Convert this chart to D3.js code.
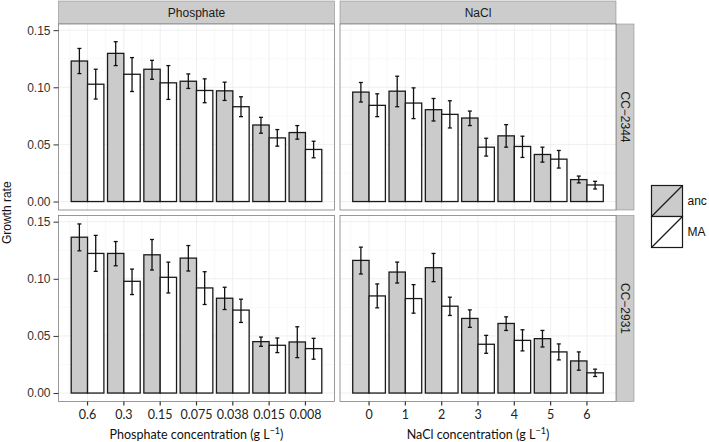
<!DOCTYPE html>
<html><head><meta charset="utf-8">
<script src="https://cdn.jsdelivr.net/npm/d3@7"></script>
<style>body{margin:0;background:#fff}</style>
</head><body>
<svg id="chart" width="709" height="442"></svg>
<script>
// ---- data ----
const phosCats = ["0.6","0.3","0.15","0.075","0.038","0.015","0.008"];
const naclCats = ["0","1","2","3","4","5","6"];
const groups = ["anc","MA"];
const strains = ["CC\u22122344","CC\u22122931"];
const facets = ["Phosphate","NaCl"];
const yTicks = [0,0.05,0.10,0.15];

// CC-2344, Phosphate
const p2344_anc = [0.123,0.1297,0.1158,0.1053,0.0969,0.067,0.0604];
const p2344_anc_lo = [0.112,0.119,0.107,0.099,0.0885,0.0598,0.0546];
const p2344_anc_hi = [0.134,0.1399,0.1236,0.1117,0.1045,0.0737,0.0665];
const p2344_ma = [0.1027,0.1114,0.1039,0.0972,0.083,0.0557,0.0456];
const p2344_ma_lo = [0.0897,0.0963,0.0894,0.0865,0.0743,0.0485,0.0383];
const p2344_ma_hi = [0.1158,0.126,0.119,0.1074,0.0917,0.063,0.0528];
// CC-2344, NaCl
const n2344_anc = [0.0958,0.0966,0.0804,0.0731,0.0575,0.0412,0.0192];
const n2344_anc_lo = [0.0871,0.083,0.0705,0.0665,0.0476,0.0345,0.0163];
const n2344_anc_hi = [0.1042,0.1097,0.0902,0.0792,0.0673,0.0476,0.0223];
const n2344_ma = [0.0842,0.0862,0.0763,0.0476,0.0482,0.0371,0.0145];
const n2344_ma_lo = [0.0743,0.0726,0.0644,0.0398,0.0386,0.0293,0.011];
const n2344_ma_hi = [0.0943,0.0995,0.0882,0.0554,0.0572,0.0447,0.0177];
// CC-2931, Phosphate
const p2931_anc = [0.1364,0.1222,0.121,0.1181,0.083,0.045,0.0447];
const p2931_anc_lo = [0.1245,0.1114,0.1077,0.1068,0.0731,0.0409,0.031];
const p2931_anc_hi = [0.148,0.1326,0.1344,0.1291,0.0926,0.049,0.058];
const p2931_ma = [0.1222,0.0978,0.1013,0.092,0.0726,0.0418,0.0389];
const p2931_ma_lo = [0.1065,0.0862,0.0876,0.0775,0.0618,0.0354,0.0296];
const p2931_ma_hi = [0.138,0.1085,0.1146,0.1062,0.0821,0.0482,0.0479];
// CC-2931, NaCl
const n2931_anc = [0.1161,0.1059,0.1097,0.0653,0.0609,0.0476,0.0281];
const n2931_anc_lo = [0.1042,0.0963,0.0975,0.0575,0.0548,0.0403,0.02];
const n2931_anc_hi = [0.1277,0.1146,0.1222,0.0728,0.0667,0.0548,0.036];
const n2931_ma = [0.085,0.0827,0.076,0.0427,0.0461,0.036,0.0177];
const n2931_ma_lo = [0.0746,0.0699,0.0679,0.0348,0.0369,0.029,0.0145];
const n2931_ma_hi = [0.0955,0.0949,0.0839,0.0505,0.0554,0.043,0.0209];

function rows(cats, anc, ancLo, ancHi, ma, maLo, maHi){
  const out=[];
  cats.forEach((c,i)=>{
    out.push({cat:c,g:"anc",v:anc[i],lo:ancLo[i],hi:ancHi[i]});
    out.push({cat:c,g:"MA",v:ma[i],lo:maLo[i],hi:maHi[i]});
  });
  return out;
}
const panels = [
  {row:0,col:0,cats:phosCats,data:rows(phosCats,p2344_anc,p2344_anc_lo,p2344_anc_hi,p2344_ma,p2344_ma_lo,p2344_ma_hi)},
  {row:0,col:1,cats:naclCats,data:rows(naclCats,n2344_anc,n2344_anc_lo,n2344_anc_hi,n2344_ma,n2344_ma_lo,n2344_ma_hi)},
  {row:1,col:0,cats:phosCats,data:rows(phosCats,p2931_anc,p2931_anc_lo,p2931_anc_hi,p2931_ma,p2931_ma_lo,p2931_ma_hi)},
  {row:1,col:1,cats:naclCats,data:rows(naclCats,n2931_anc,n2931_anc_lo,n2931_anc_hi,n2931_ma,n2931_ma_lo,n2931_ma_hi)}
];

// ---- layout ----
const svg = d3.select("#chart");
const colX = [58.5, 340];
const pw = 276;
const rowY = [24, 215.5];
const ph = 186;
const fillCol = {anc:"#cbcbcb", MA:"#ffffff"};
const sans = "'Liberation Sans', Arial, sans-serif";
const xfont = "Lato, 'Open Sans', sans-serif";

const y = d3.scaleLinear().domain([-0.0074,0.1554]).range([ph,0]);

// strips top
facets.forEach((f,c)=>{
  svg.append("rect").attr("x",colX[c]).attr("y",1).attr("width",pw).attr("height",23)
    .attr("fill","#cccccc").attr("stroke","#7f7f7f").attr("stroke-width",0.5);
  svg.append("text").attr("x",colX[c]+pw/2).attr("y",16.5).attr("text-anchor","middle")
    .attr("font-family",sans).attr("font-size",12).attr("fill","#1a1a1a").text(f);
});
// strips right
strains.forEach((s,r)=>{
  svg.append("rect").attr("x",colX[1]+pw).attr("y",rowY[r]).attr("width",18).attr("height",ph)
    .attr("fill","#cccccc").attr("stroke","#7f7f7f").attr("stroke-width",0.5);
  const cx = colX[1]+pw+9, cy = rowY[r]+ph/2;
  svg.append("text").attr("transform",`translate(${cx},${cy}) rotate(90)`)
    .attr("text-anchor","middle").attr("dy","0.35em")
    .attr("font-family",sans).attr("font-size",12).attr("fill","#1a1a1a").text(s);
});

panels.forEach(p=>{
  const g = svg.append("g").attr("transform",`translate(${colX[p.col]},${rowY[p.row]})`);
  const x = d3.scaleBand().domain(p.cats).range([0,pw]).paddingInner(0).paddingOuter(0.3);
  const step = x.step();
  const xs = d3.scaleBand().domain(groups).range([0.05*step,0.95*step]).padding(0);
  g.append("rect").attr("width",pw).attr("height",ph).attr("fill","#fff");
  // minor grid
  const minorY = [0.025,0.075,0.125];
  g.selectAll(".my").data(minorY).join("line").attr("x1",0).attr("x2",pw)
    .attr("y1",d=>y(d)).attr("y2",d=>y(d)).attr("stroke","#f4f4f4").attr("stroke-width",0.6);
  const minorX = p.cats.slice(0,-1).map(c=>x(c)+step);
  minorX.push(x(p.cats[0])); minorX.push(x(p.cats[p.cats.length-1])+step);
  g.selectAll(".mx").data(minorX).join("line").attr("y1",0).attr("y2",ph)
    .attr("x1",d=>d).attr("x2",d=>d).attr("stroke","#f4f4f4").attr("stroke-width",0.6);
  // major grid
  g.selectAll(".gy").data(yTicks).join("line").attr("x1",0).attr("x2",pw)
    .attr("y1",d=>y(d)).attr("y2",d=>y(d)).attr("stroke","#ebebeb").attr("stroke-width",0.8);
  g.selectAll(".gx").data(p.cats).join("line").attr("y1",0).attr("y2",ph)
    .attr("x1",d=>x(d)+step/2).attr("x2",d=>x(d)+step/2).attr("stroke","#ebebeb").attr("stroke-width",0.8);
  // bars
  g.selectAll(".bar").data(p.data).join("rect")
    .attr("x",d=>x(d.cat)+xs(d.g)).attr("width",xs.bandwidth())
    .attr("y",d=>y(d.v)).attr("height",d=>y(0)-y(d.v))
    .attr("fill",d=>fillCol[d.g]).attr("stroke","#1a1a1a").attr("stroke-width",1.3);
  // error bars
  const eb = g.selectAll(".eb").data(p.data).join("g")
    .attr("transform",d=>`translate(${x(d.cat)+xs(d.g)+xs.bandwidth()/2},0)`);
  eb.append("line").attr("x1",0).attr("x2",0).attr("y1",d=>y(d.lo)).attr("y2",d=>y(d.hi))
    .attr("stroke","#111").attr("stroke-width",1.3);
  eb.append("line").attr("x1",-2).attr("x2",2).attr("y1",d=>y(d.lo)).attr("y2",d=>y(d.lo))
    .attr("stroke","#111").attr("stroke-width",1.3);
  eb.append("line").attr("x1",-2).attr("x2",2).attr("y1",d=>y(d.hi)).attr("y2",d=>y(d.hi))
    .attr("stroke","#111").attr("stroke-width",1.3);
  // border
  g.append("rect").attr("width",pw).attr("height",ph).attr("fill","none")
    .attr("stroke","#7f7f7f").attr("stroke-width",0.8);
  // y axis on left column
  if(p.col===0){
    const ya = g.append("g").call(d3.axisLeft(y).tickValues(yTicks).tickFormat(d3.format(".2f")).tickSize(5).tickPadding(3));
    ya.select(".domain").remove();
    ya.selectAll("line").attr("stroke","#333");
    ya.selectAll("text").attr("font-family",sans).attr("font-size",12).attr("fill","#333");
  }
  if(p.row===1){
    const xa = g.append("g").attr("transform",`translate(0,${ph})`)
      .call(d3.axisBottom(x).tickSize(4).tickPadding(5));
    xa.select(".domain").remove();
    xa.selectAll("line").attr("stroke","#333").attr("stroke-width",1.2);
    xa.selectAll("text").attr("font-family",xfont).attr("font-size",12.5).attr("fill","#222");
  }
});

// axis titles
const xTitles = ["Phosphate concentration (g L","NaCl concentration (g L"];
xTitles.forEach((t,c)=>{
  const tx = svg.append("text").attr("x",colX[c]+pw/2).attr("y",439).attr("text-anchor","middle")
    .attr("font-family",xfont).attr("font-size",12.5).attr("fill","#111");
  tx.append("tspan").text(t);
  tx.append("tspan").attr("dy",-5).attr("font-size",9).text("\u22121");
  tx.append("tspan").attr("dy",5).text(")");
});
svg.append("text").attr("transform",`translate(11,${(rowY[0]+rowY[1]+ph)/2}) rotate(-90)`)
  .attr("text-anchor","middle").attr("font-family",sans).attr("font-size",12).attr("fill","#111")
  .text("Growth rate");

// legend
const lg = svg.append("g").attr("transform","translate(651.5,185.5)");
groups.forEach((gname,i)=>{
  const k = lg.append("g").attr("transform",`translate(0,${i*31})`);
  k.append("rect").attr("width",31).attr("height",31).attr("fill",fillCol[gname])
    .attr("stroke","#1a1a1a").attr("stroke-width",1.2);
  k.append("line").attr("x1",0).attr("y1",31).attr("x2",31).attr("y2",0)
    .attr("stroke","#1a1a1a").attr("stroke-width",1.2);
  k.append("text").attr("x",36).attr("y",15.5).attr("dy","0.35em")
    .attr("font-family",sans).attr("font-size",12).attr("fill","#111").text(gname);
});
</script>
</body></html>
